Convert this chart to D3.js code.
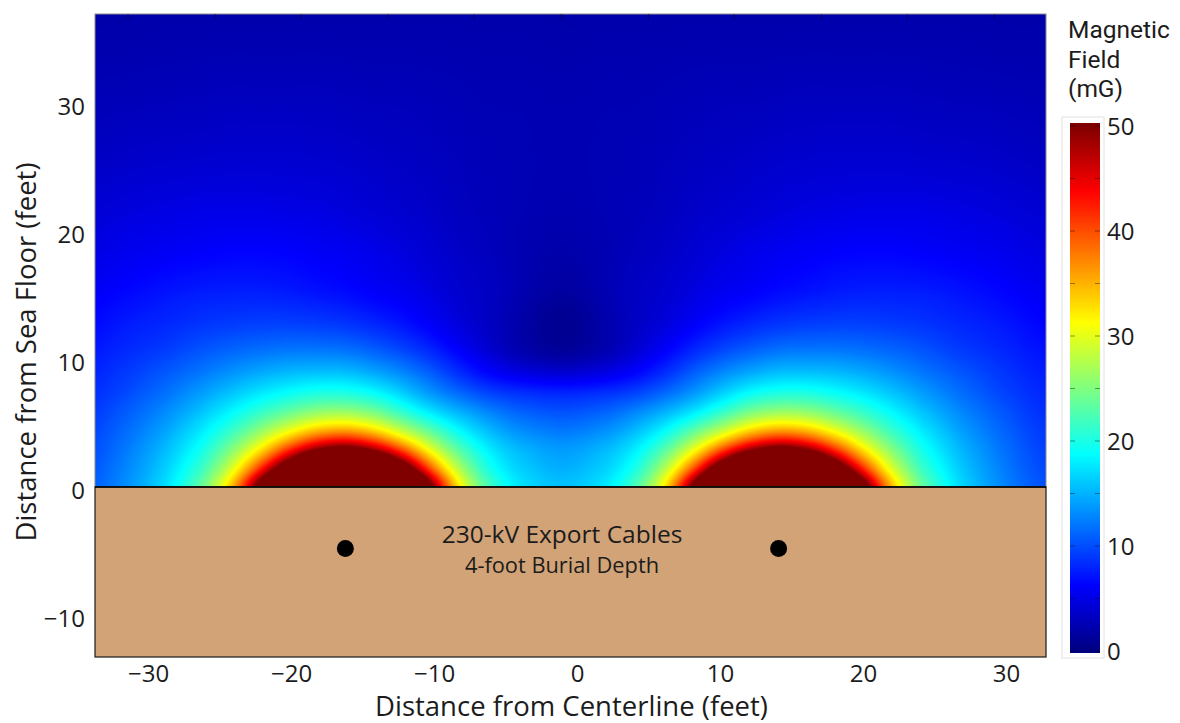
<!DOCTYPE html>
<html>
<head>
<meta charset="utf-8">
<script src="https://cdn.jsdelivr.net/npm/d3@7/dist/d3.min.js"></script>
<style>
  html, body { margin: 0; padding: 0; background: #ffffff; }
  svg { display: block; font-family: "Open Sans", "Noto Sans", sans-serif; }
</style>
</head>
<body>
<svg id="chart" width="1180" height="723"></svg>
<script>
// ---------------- data ----------------
// grid columns: distance from centerline (feet)
const fieldX = [-35.05, -31.7, -28.7, -26.2, -24.2, -22.2, -20.2, -18.2, -16.2, -14.2, -12.2, -10.2, -8.2, -6.2, -4.2,
                -1.05, 2.1, 4.1, 6.1, 8.1, 10.1, 12.1, 14.1, 16.1, 18.1, 20.1, 22.1, 24.1, 26.6, 29.6, 32.95];
// grid rows: distance above sea floor (feet)
const fieldY = [0, 1.5, 3, 4.5, 6, 7.5, 9, 11, 13, 15.5, 18.5, 22, 26, 31, 37];
// magnetic field (mG), one row per fieldY value, one entry per fieldX value
const fieldRows = [
  [10.1, 13.1, 17.4, 23.9, 34.2, 53.7, 85.1, 132, 160, 132, 84.1, 51.7, 32.0, 22.4, 17.8, 15.8, 17.8, 22.4, 32.0, 51.7, 84.1, 132, 160, 132, 85.1, 53.7, 34.2, 23.9, 17.4, 13.1, 10.1],
  [9.7, 12.6, 16.5, 21.6, 29.1, 41.1, 57.8, 76.7, 86.3, 76.0, 56.9, 39.2, 27.2, 20.0, 16.6, 14.8, 16.6, 20.0, 27.2, 39.2, 56.9, 76.0, 86.3, 76.7, 57.8, 41.1, 29.1, 21.6, 16.5, 12.6, 9.7],
  [9.3, 12.0, 15.5, 19.6, 24.8, 31.8, 40.7, 49.0, 52.4, 47.8, 39.1, 29.8, 22.6, 17.9, 15.3, 13.8, 15.3, 17.9, 22.6, 29.8, 39.1, 47.8, 52.4, 49.0, 40.7, 31.8, 24.8, 19.6, 15.5, 12.0, 9.3],
  [8.9, 11.3, 14.3, 17.7, 21.1, 25.4, 29.9, 33.9, 35.2, 32.7, 27.7, 22.8, 18.4, 15.3, 13.2, 12.0, 13.2, 15.3, 18.4, 22.8, 27.7, 32.7, 35.2, 33.9, 29.9, 25.4, 21.1, 17.7, 14.3, 11.3, 8.9],
  [8.4, 10.5, 13.0, 15.7, 18.2, 20.8, 23.2, 25.2, 25.6, 24.0, 20.6, 17.2, 14.6, 12.5, 10.9, 10.0, 10.9, 12.5, 14.6, 17.2, 20.6, 24.0, 25.6, 25.2, 23.2, 20.8, 18.2, 15.7, 13.0, 10.5, 8.4],
  [8.0, 9.6, 11.7, 13.8, 15.6, 17.3, 18.6, 19.6, 19.6, 18.4, 16.0, 13.3, 11.0, 9.2, 8.2, 7.6, 8.2, 9.2, 11.0, 13.3, 16.0, 18.4, 19.6, 19.6, 18.6, 17.3, 15.6, 13.8, 11.7, 9.6, 8.0],
  [7.5, 8.9, 10.5, 12.0, 13.3, 14.4, 15.2, 15.5, 15.4, 14.3, 12.7, 10.6, 8.2, 6.2, 4.8, 3.9, 4.8, 6.2, 8.2, 10.6, 12.7, 14.3, 15.4, 15.5, 15.2, 14.4, 13.3, 12.0, 10.5, 8.9, 7.5],
  [6.9, 8.0, 9.0, 10.1, 10.8, 11.3, 11.6, 11.6, 11.3, 10.4, 9.2, 7.6, 5.7, 3.9, 2.3, 1.1, 2.3, 3.9, 5.7, 7.6, 9.2, 10.4, 11.3, 11.6, 11.6, 11.3, 10.8, 10.1, 9.0, 8.0, 6.9],
  [6.2, 7.3, 8.0, 8.6, 8.9, 9.1, 9.1, 8.9, 8.5, 7.8, 6.9, 5.7, 4.4, 3.3, 2.2, 0.9, 2.2, 3.3, 4.4, 5.7, 6.9, 7.8, 8.5, 8.9, 9.1, 9.1, 8.9, 8.6, 8.0, 7.3, 6.2],
  [5.5, 6.3, 7.0, 7.4, 7.5, 7.5, 7.3, 6.9, 6.5, 5.9, 5.4, 4.6, 3.9, 3.3, 2.5, 1.6, 2.5, 3.3, 3.9, 4.6, 5.4, 5.9, 6.5, 6.9, 7.3, 7.5, 7.5, 7.4, 7.0, 6.3, 5.5],
  [4.7, 5.3, 5.7, 6.0, 6.2, 6.2, 6.1, 5.8, 5.5, 5.1, 4.6, 4.0, 3.5, 3.0, 2.5, 2.1, 2.5, 3.0, 3.5, 4.0, 4.6, 5.1, 5.5, 5.8, 6.1, 6.2, 6.2, 6.0, 5.7, 5.3, 4.7],
  [4.0, 4.4, 4.7, 4.9, 4.9, 4.9, 4.8, 4.7, 4.4, 4.1, 3.8, 3.5, 3.1, 2.8, 2.6, 2.4, 2.6, 2.8, 3.1, 3.5, 3.8, 4.1, 4.4, 4.7, 4.8, 4.9, 4.9, 4.9, 4.7, 4.4, 4.0],
  [3.2, 3.5, 3.7, 3.8, 3.9, 3.9, 3.9, 3.8, 3.7, 3.5, 3.3, 3.1, 2.9, 2.7, 2.6, 2.5, 2.6, 2.7, 2.9, 3.1, 3.3, 3.5, 3.7, 3.8, 3.9, 3.9, 3.9, 3.8, 3.7, 3.5, 3.2],
  [2.6, 2.7, 2.8, 2.9, 3.0, 3.0, 3.0, 3.0, 2.9, 2.8, 2.8, 2.7, 2.6, 2.5, 2.5, 2.4, 2.5, 2.5, 2.6, 2.7, 2.8, 2.8, 2.9, 3.0, 3.0, 3.0, 3.0, 2.9, 2.8, 2.7, 2.6],
  [2.1, 2.1, 2.2, 2.2, 2.2, 2.2, 2.2, 2.2, 2.2, 2.2, 2.2, 2.2, 2.2, 2.2, 2.2, 2.1, 2.2, 2.2, 2.2, 2.2, 2.2, 2.2, 2.2, 2.2, 2.2, 2.2, 2.2, 2.2, 2.2, 2.1, 2.1]
];
const cableX = [-16.2, 14.1];
const cableDepth = -4.8;
const xTickValues = [-30, -20, -10, 0, 10, 20, 30];
const yTickValues = [-10, 0, 10, 20, 30];
const topTickValues = [-31.4, -25.3, -19.3, -13.2, -7.2, -1.1, 5.0, 11.0, 17.1, 23.1, 29.2];
const colorTickValues = [0, 10, 20, 30, 40, 50];
const colorMinorValues = [0, 5, 10, 15, 20, 25, 30, 35, 40, 45, 50];
const jetStops = [0, 6.25, 18.75, 31.25, 43.75, 50];
const jetColors = ["#000080", "#0000ff", "#00ffff", "#ffff00", "#ff0000", "#800000"];
const cableLabel = "230-kV Export Cables";
const cableSubLabel = "4-foot Burial Depth";
const labelPos = {x: -1.05, y1: -4.4, y2: -6.75};
const xTitle = "Distance from Centerline (feet)";
const yTitle = "Distance from Sea Floor (feet)";
const colorbarTitle = ["Magnetic", "Field", "(mG)"];

// ---------------- layout & scales ----------------
const svg = d3.select("#chart");
const M = {left: 95, right: 1046, top: 14, bottom: 657};
const x = d3.scaleLinear().domain([-33.71, 32.80]).range([M.left, M.right]);
const y = d3.scaleLinear().domain([-13.28, 36.95]).range([M.bottom, M.top]);
const color = d3.scaleLinear().domain(jetStops).range(jetColors).clamp(true);
const textColor = "#1c1c1c";

// ---------------- heatmap (smooth rendering of the grid) ----------------
const y0px = Math.round(y(0));
const hmW = M.right - M.left, hmH = y0px - M.top;
const canvas = document.createElement("canvas");
canvas.width = hmW; canvas.height = hmH;
const ctx = canvas.getContext("2d");
const img = ctx.createImageData(hmW, hmH);
const colIdx = d3.scaleLinear().domain(fieldX).range(d3.range(fieldX.length)).clamp(true);
const rowIdx = d3.scaleLinear().domain(fieldY).range(d3.range(fieldY.length)).clamp(true);
const logGrid = fieldRows.map(r => r.map(v => Math.log(v)));
const nC = fieldX.length, nR = fieldY.length;
const lut = d3.range(0, 601).map(i => d3.rgb(color(i / 10)));
function cr(p0, p1, p2, p3, t) {
  return 0.5 * (2 * p1 + (-p0 + p2) * t + (2 * p0 - 5 * p1 + 4 * p2 - p3) * t * t + (-p0 + 3 * p1 - 3 * p2 + p3) * t * t * t);
}
const clampI = (i, n) => i < 0 ? 0 : (i > n - 1 ? n - 1 : i);
const colF = d3.range(hmW).map(i => colIdx(x.invert(M.left + i + 0.5)));
for (let j = 0; j < hmH; j++) {
  const fy = rowIdx(y.invert(M.top + j + 0.5));
  const r = Math.min(Math.floor(fy), nR - 2), ty = fy - r;
  const R = [-1, 0, 1, 2].map(k => logGrid[clampI(r + k, nR)]);
  for (let i = 0; i < hmW; i++) {
    const fx = colF[i];
    const c = Math.min(Math.floor(fx), nC - 2), tx = fx - c;
    const a = clampI(c - 1, nC), b = c, e = c + 1, d = clampI(c + 2, nC);
    const v0 = cr(R[0][a], R[0][b], R[0][e], R[0][d], tx);
    const v1 = cr(R[1][a], R[1][b], R[1][e], R[1][d], tx);
    const v2 = cr(R[2][a], R[2][b], R[2][e], R[2][d], tx);
    const v3 = cr(R[3][a], R[3][b], R[3][e], R[3][d], tx);
    const v = Math.exp(cr(v0, v1, v2, v3, ty));
    const k = Math.max(0, Math.min(600, Math.round(v * 10)));
    const col = lut[k];
    const p = (j * hmW + i) * 4;
    img.data[p] = col.r; img.data[p + 1] = col.g; img.data[p + 2] = col.b; img.data[p + 3] = 255;
  }
}
ctx.putImageData(img, 0, 0);
svg.append("image")
  .attr("x", M.left).attr("y", M.top)
  .attr("width", hmW).attr("height", hmH)
  .attr("preserveAspectRatio", "none")
  .attr("href", canvas.toDataURL());

// frame of the water region
svg.append("rect")
  .attr("x", M.left).attr("y", M.top)
  .attr("width", hmW).attr("height", hmH)
  .attr("fill", "none").attr("stroke", "#8c8c8c").attr("stroke-width", 1);

// top tick marks
svg.append("g").selectAll("line").data(topTickValues).join("line")
  .attr("x1", d => x(d)).attr("x2", d => x(d))
  .attr("y1", M.top).attr("y2", M.top + 5)
  .attr("stroke", "#000").attr("stroke-opacity", 0.45).attr("stroke-width", 1.2);

// ---------------- sea floor ----------------
svg.append("rect")
  .attr("x", M.left).attr("y", y(0))
  .attr("width", M.right - M.left).attr("height", M.bottom - y(0))
  .attr("fill", "#d2a377").attr("stroke", "#1a1a1a").attr("stroke-width", 1.2);
svg.append("line")
  .attr("x1", M.left).attr("x2", M.right).attr("y1", y(0)).attr("y2", y(0))
  .attr("stroke", "#000").attr("stroke-width", 1.6);

svg.append("g").selectAll("circle").data(cableX).join("circle")
  .attr("cx", d => x(d)).attr("cy", y(cableDepth)).attr("r", 8.5).attr("fill", "#000");

svg.append("text")
  .attr("x", x(labelPos.x)).attr("y", y(labelPos.y1))
  .attr("text-anchor", "middle").attr("font-size", 24.5).attr("fill", textColor)
  .text(cableLabel);
svg.append("text")
  .attr("x", x(labelPos.x)).attr("y", y(labelPos.y2))
  .attr("text-anchor", "middle").attr("font-size", 21.8).attr("fill", textColor)
  .text(cableSubLabel);

// ---------------- axes ----------------
const xAxis = svg.append("g").attr("transform", `translate(0,${M.bottom})`)
  .call(d3.axisBottom(x).tickValues(xTickValues).tickSize(0).tickPadding(8));
xAxis.select(".domain").remove();
xAxis.selectAll("text").attr("font-size", 24).attr("font-family", "Open Sans").attr("fill", textColor);

const yAxis = svg.append("g").attr("transform", `translate(${M.left},0)`)
  .call(d3.axisLeft(y).tickValues(yTickValues).tickSize(0).tickPadding(10));
yAxis.select(".domain").remove();
yAxis.selectAll("text").attr("font-size", 24).attr("font-family", "Open Sans").attr("fill", textColor).attr("dy", "0.46em");

svg.append("text")
  .attr("x", (M.left + M.right) / 2 + 1).attr("y", 716)
  .attr("text-anchor", "middle").attr("font-size", 27.5).attr("fill", textColor)
  .text(xTitle);
svg.append("text")
  .attr("transform", `translate(36,${352}) rotate(-90)`)
  .attr("text-anchor", "middle").attr("font-size", 27.5).attr("fill", textColor)
  .text(yTitle);

// ---------------- colorbar ----------------
const cb = {x: 1070, w: 30};
const cbScale = d3.scaleLinear().domain([0, 50]).range([651, 126]);
const defs = svg.append("defs");
const grad = defs.append("linearGradient").attr("id", "jetGrad")
  .attr("gradientUnits", "userSpaceOnUse")
  .attr("x1", 0).attr("x2", 0).attr("y1", cbScale(0)).attr("y2", cbScale(50));
grad.selectAll("stop").data(jetStops).join("stop")
  .attr("offset", d => d / 50)
  .attr("stop-color", d => color(d));

svg.append("rect")
  .attr("x", 1062).attr("y", 117).attr("width", 42).attr("height", 541)
  .attr("fill", "#fff").attr("stroke", "#e2e2e2").attr("stroke-width", 1);
svg.append("rect")
  .attr("x", cb.x).attr("y", cbScale(50) - 3).attr("width", cb.w).attr("height", cbScale(0) - cbScale(50) + 5)
  .attr("fill", "url(#jetGrad)");
const minor = svg.append("g").attr("stroke", "#000").attr("stroke-opacity", 0.4).attr("stroke-width", 1);
minor.selectAll("line.l").data(colorMinorValues).join("line").attr("class", "l")
  .attr("x1", cb.x).attr("x2", cb.x + 5).attr("y1", d => cbScale(d)).attr("y2", d => cbScale(d));
minor.selectAll("line.r").data(colorMinorValues).join("line").attr("class", "r")
  .attr("x1", cb.x + cb.w - 5).attr("x2", cb.x + cb.w).attr("y1", d => cbScale(d)).attr("y2", d => cbScale(d));

const cAxis = svg.append("g").attr("transform", `translate(${cb.x + cb.w},0)`)
  .call(d3.axisRight(cbScale).tickValues(colorTickValues).tickSize(0).tickPadding(7));
cAxis.select(".domain").remove();
cAxis.selectAll("text").attr("font-size", 24).attr("font-family", "Open Sans").attr("fill", textColor).attr("dy", "0.36em");

svg.append("g").selectAll("text").data(colorbarTitle).join("text")
  .attr("x", 1068).attr("y", (d, i) => 38 + i * 29.5)
  .attr("font-family", "Roboto").attr("font-size", 24.5).attr("fill", textColor)
  .text(d => d);
</script>
</body>
</html>
